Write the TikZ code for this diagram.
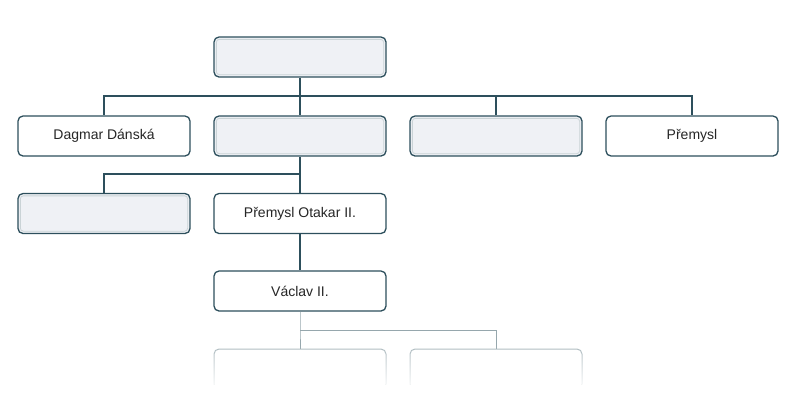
\documentclass[tikz,border=0pt]{standalone}
\usepackage{fontspec}
\setmainfont{Liberation Sans}
\usetikzlibrary{fadings}
\tikzfading[name=fadedown, top color=transparent!100, bottom color=transparent!0]
\definecolor{bord}{HTML}{2D4F5C}
\definecolor{efill}{HTML}{EFF1F5}
\tikzset{
  x=1pt,y=-1pt,
  person/.style={draw=bord, line width=1.3pt, rounded corners=5pt, fill=white, minimum width=172pt, minimum height=40pt, inner sep=0pt, font=\fontsize{14}{16}\selectfont, text=black!85},
  empty/.style={person, fill=efill, double=efill, double distance=0pt, draw=bord},
  ebox/.style={person, fill=efill},
  link/.style={draw=bord, line width=1.1pt},
  faint/.style={draw=bord!50, line width=1pt}
}
\begin{document}
\begin{tikzpicture}
\useasboundingbox (0,0) rectangle (800,400);
% connectors
\node[ebox] (top) at (300,57) {};
\node[person] (dag) at (104,136) {Dagmar Dánská};
\node[ebox] (mid) at (300,136) {};
\node[ebox] (e2) at (496,136) {};
\node[person] (pre) at (692,136) {Přemysl};
\node[ebox] (e3) at (104,213.5) {};
\node[person] (ot) at (300,213.5) {Přemysl Otakar II.};
\node[person] (va) at (300,291) {Václav II.};
\node[person, draw=bord!40, line width=1pt] (c1) at (300,369) {};
\node[person, draw=bord!40, line width=1pt] (c2) at (496,369) {};
\coordinate (j1) at (300,96);
\coordinate (j2) at (300,174);
\coordinate (j3) at (300,330);
\draw[link] (top.south) -- (j1);
\draw[link] (j1) -| (dag.north);
\draw[link] (j1) -- (mid.north);
\draw[link] (j1) -| (e2.north);
\draw[link] (j1) -| (pre.north);
\draw[link] (mid.south) -- (j2);
\draw[link] (j2) -| (e3.north);
\draw[link] (j2) -- (ot.north);
\draw[link] (ot.south) -- (va.north);
\draw[faint] (va.south) -- (j3) -- (c1.north);
\draw[faint] (j3) -| (c2.north);
% inner light borders for empty boxes
\foreach \n in {top,mid,e2,e3}{
  \draw[white!75!bord, line width=0.8pt, rounded corners=3pt] ([shift={(3,-3)}]\n.south west) rectangle ([shift={(-3,3)}]\n.north east);
}
\fill[white, path fading=fadedown] (200,345) rectangle (600,392);
\fill[white] (200,385) rectangle (600,400);
\end{tikzpicture}
\end{document}
